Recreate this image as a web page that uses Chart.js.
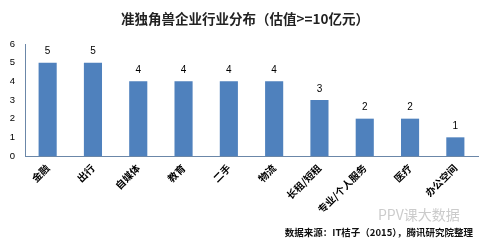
<!DOCTYPE html>
<html>
<head>
<meta charset="utf-8">
<script src="https://cdn.jsdelivr.net/npm/chart.js@4"></script>
<style>
  html, body { margin: 0; padding: 0; background: #fff; }
  #wrap { width: 485px; height: 243px; position: relative; }
</style>
</head>
<body>
<div id="wrap"><canvas id="c"></canvas></div>
<script>
// 数据
const categories = ['金融', '出行', '自媒体', '教育', '二手', '物流', '长租/短租', '专业/个人服务', '医疗', '办公空间'];
const counts = [5, 5, 4, 4, 4, 4, 3, 2, 2, 1];
const yTicks = [0, 1, 2, 3, 4, 5, 6];

const titleText = '准独角兽企业行业分布（估值>=10亿元）';
const sourceText = '数据来源：IT桔子（2015），腾讯研究院整理';
const cjk = '"Noto Sans CJK SC", "Liberation Sans", sans-serif';

// 标题、数值标签、来源
const extras = {
    id: 'extras',
    afterDatasetsDraw(chart) {
        const ctx = chart.ctx;
        const meta = chart.getDatasetMeta(0);
        ctx.save();
        ctx.fillStyle = '#000';
        ctx.font = '10px "Liberation Sans", Arial, sans-serif';
        ctx.textAlign = 'center';
        ctx.textBaseline = 'bottom';
        meta.data.forEach((bar, i) => {
            ctx.fillText(counts[i], bar.x, bar.y - 6);
        });

        ctx.font = 'bold 13.5px ' + cjk;
        ctx.fillStyle = '#222';
        ctx.textBaseline = 'middle';
        ctx.fillText(titleText, 245, 19);

        // 水印
        ctx.font = '14px ' + cjk;
        ctx.fillStyle = 'rgba(190,190,190,0.8)';
        ctx.textAlign = 'left';
        ctx.fillText('PPV课大数据', 378, 215);

        ctx.font = 'bold 9.5px ' + cjk;
        ctx.fillStyle = '#111';
        ctx.textAlign = 'right';
        ctx.fillText(sourceText, 473, 232);
        ctx.restore();
    }
};

new Chart(document.getElementById('c'), {
    type: 'bar',
    data: {
        labels: categories,
        datasets: [{
            data: counts,
            backgroundColor: '#4f81bd',
            barPercentage: 0.4,
            categoryPercentage: 1
        }]
    },
    options: {
        responsive: true,
        maintainAspectRatio: false,
        animation: false,
        layout: { padding: { top: 44, right: 7, left: 0, bottom: 0 } },
        plugins: {
            legend: { display: false },
            tooltip: { enabled: false }
        },
        scales: {
            x: {
                grid: { display: false, drawTicks: false },
                border: { color: '#6b87a8', width: 1 },
                ticks: {
                    color: '#000',
                    font: { family: cjk, size: 10, weight: 'bold' },
                    maxRotation: 45,
                    minRotation: 45,
                    padding: 6
                },
                afterFit(scale) { scale.height = 87; }
            },
            y: {
                min: 0,
                max: 6,
                afterBuildTicks(scale) { scale.ticks = yTicks.map(v => ({ value: v })); },
                grid: { display: false, drawTicks: false },
                border: { color: '#6b87a8', width: 1 },
                ticks: {
                    color: '#000',
                    font: { family: '"Liberation Sans", Arial, sans-serif', size: 9.5 },
                    padding: 10
                },
                afterFit(scale) { scale.width = 25; }
            }
        }
    },
    plugins: [extras]
});
</script>
</body>
</html>
